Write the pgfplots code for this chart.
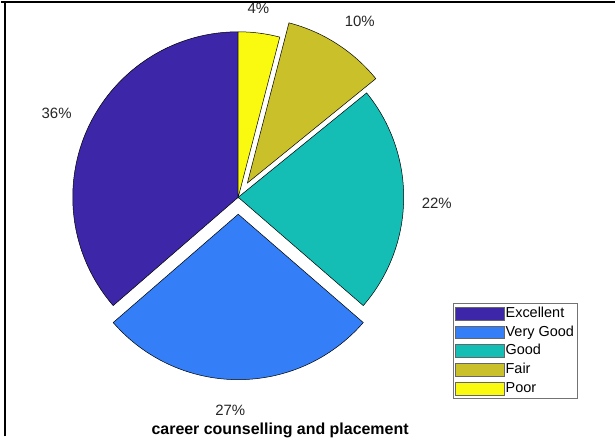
\documentclass[border=0pt]{standalone}
\usepackage{pgfplots}
\usepackage{pgfplotstable}
\usepackage{fontspec}
\setmainfont{Liberation Sans}
\pgfplotsset{compat=1.18}

\definecolor{c1}{RGB}{62,38,168}
\definecolor{c2}{RGB}{52,126,247}
\definecolor{c3}{RGB}{20,190,180}
\definecolor{c4}{RGB}{202,193,42}
\definecolor{c5}{RGB}{249,250,15}

% counts per answer, colour, exploded or not, small label nudges
\pgfplotstableread{
value col explode ldx ldy
36 c1 0 -1  1
27 c2 1 -8  2
22 c3 0  0 -3
10 c4 1  5 -5
4  c5 0 -5 -8
}\piedata

\def\R{166}
\def\off{17}
\newcommand\labelfont{\fontsize{15}{18}\selectfont}

\begin{document}
\begin{tikzpicture}
\begin{axis}[
    x=1pt, y=1pt,
    xmin=0, xmax=616, ymin=0, ymax=437,
    hide axis, clip=false,
    legend cell align=left,
    legend image code/.code={\draw[#1] (0pt,-6.5pt) rectangle (49pt,6.5pt);},
    legend style={at={(axis cs:578,38)}, anchor=south east, draw=black!55,
        font=\fontsize{14.5}{17}\selectfont, row sep=2.8pt, inner sep=2pt,
        nodes={inner sep=1pt, text height=11pt, text depth=3pt}},
  ]
  \path (axis cs:0,0) rectangle (axis cs:616,437);
  \draw[line width=2pt] (axis cs:0,435.5) -- (axis cs:616,435.5);
  \def\total{0}
  \pgfplotsforeachungrouped \i in {0,...,4}{%
    \pgfplotstablegetelem{\i}{value}\of\piedata
    \pgfmathsetmacro\total{\total+\pgfplotsretval}%
  }
  \def\start{90}
  \pgfplotsforeachungrouped \i in {0,...,4}{%
    \pgfplotstablegetelem{\i}{value}\of\piedata \let\val\pgfplotsretval
    \pgfplotstablegetelem{\i}{col}\of\piedata \let\col\pgfplotsretval
    \pgfplotstablegetelem{\i}{explode}\of\piedata \let\ex\pgfplotsretval
    \pgfplotstablegetelem{\i}{ldx}\of\piedata \let\ldx\pgfplotsretval
    \pgfplotstablegetelem{\i}{ldy}\of\piedata \let\ldy\pgfplotsretval
    \pgfmathsetmacro\sweep{360*\val/\total}%
    \pgfmathsetmacro\stop{\start+\sweep}%
    \pgfmathsetmacro\mid{\start+\sweep/2}%
    \pgfmathsetmacro\cx{238+\ex*\off*cos(\mid)}%
    \pgfmathsetmacro\cy{240+\ex*\off*sin(\mid)}%
    \pgfmathsetmacro\lx{\cx+1.2*\R*cos(\mid)+\ldx}%
    \pgfmathsetmacro\ly{\cy+1.2*\R*sin(\mid)+\ldy}%
    \pgfmathparse{int(round(100*\val/\total))}\let\pct\pgfmathresult
    \edef\temp{%
      \noexpand\draw[fill=\col, draw=black, line width=0.5pt]
        (axis cs:\cx,\cy) -- ++(\start:\R pt)
        arc[start angle=\start, end angle=\stop, radius=\R pt] -- cycle;
      \noexpand\node[overlay, font=\noexpand\labelfont, text=black!85] at (axis cs:\lx,\ly) {\pct\noexpand\%};
    }%
    \temp
    \global\let\start\stop
  }

  \addlegendimage{fill=c1, draw=black!60}
  \addlegendentry{Excellent}
  \addlegendimage{fill=c2, draw=black!60}
  \addlegendentry{Very Good}
  \addlegendimage{fill=c3, draw=black!60}
  \addlegendentry{Good}
  \addlegendimage{fill=c4, draw=black!60}
  \addlegendentry{Fair}
  \addlegendimage{fill=c5, draw=black!60}
  \addlegendentry{Poor}

  \node[overlay, font=\bfseries\fontsize{16}{18}\selectfont] at (axis cs:280,6) {career counselling and placement};
  \draw[line width=1.8pt] (axis cs:4,0) -- (axis cs:4,437);
\end{axis}
\end{tikzpicture}
\end{document}
